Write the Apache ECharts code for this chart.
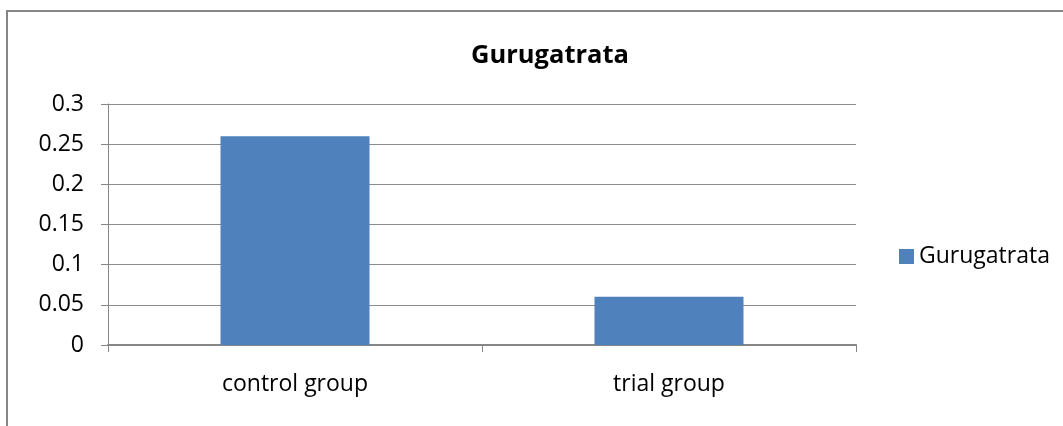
<!DOCTYPE html>
<html>
<head>
<meta charset="utf-8">
<script src="https://cdn.jsdelivr.net/npm/echarts@6/dist/echarts.min.js"></script>
<style>
  html, body { margin: 0; padding: 0; background: #fff; }
  #main { width: 1063px; height: 426px; }
</style>
</head>
<body>
<div id="main"></div>
<script>
const categories = ['control group', 'trial group']
const seriesName = 'Gurugatrata'
const values = [0.26, 0.06]
const yTicks = [0, 0.05, 0.1, 0.15, 0.2, 0.25, 0.3]

const myChart = echarts.init(document.getElementById('main'))
const font = '"Open Sans", "Liberation Sans", sans-serif'

const option = {
  animation: false,
  textStyle: { fontFamily: font },
  graphic: [
    {
      type: 'rect',
      shape: { x: 7, y: 11, width: 1200, height: 600 },
      style: { fill: 'none', stroke: '#868686', lineWidth: 2 },
      silent: true
    }
  ],
  title: {
    text: seriesName,
    left: 545,
    top: 38,
    textAlign: 'center',
    textStyle: { fontFamily: font, fontSize: 25.5, fontWeight: 'bold', color: '#000' }
  },
  legend: {
    data: [seriesName],
    left: 894,
    top: 240,
    icon: 'rect',
    itemWidth: 15,
    itemHeight: 15,
    textStyle: { fontFamily: font, fontSize: 23, color: '#000' }
  },
  grid: {
    left: 108,
    right: 1063 - 856,
    top: 104,
    bottom: 426 - 345,
    containLabel: false
  },
  xAxis: {
    type: 'category',
    data: categories,
    axisLine: { lineStyle: { color: '#868686', width: 2 } },
    axisTick: { show: true, length: 7, lineStyle: { color: '#868686', width: 1 } },
    axisLabel: { color: '#000', fontSize: 23, margin: 28, fontFamily: font }
  },
  yAxis: {
    type: 'value',
    min: yTicks[0],
    max: yTicks[yTicks.length - 1],
    interval: 0.05,
    axisLine: { show: true, lineStyle: { color: '#868686', width: 1 } },
    axisTick: { show: true, length: 7, lineStyle: { color: '#868686' } },
    splitLine: { show: true, lineStyle: { color: '#8c8c8c', width: 1 } },
    axisLabel: { color: '#000', fontSize: 23, margin: 24, fontFamily: font }
  },
  series: [
    {
      name: seriesName,
      type: 'bar',
      data: values,
      barWidth: 149,
      itemStyle: { color: '#4F81BD' }
    }
  ]
}
option && myChart.setOption(option)
</script>
</body>
</html>
